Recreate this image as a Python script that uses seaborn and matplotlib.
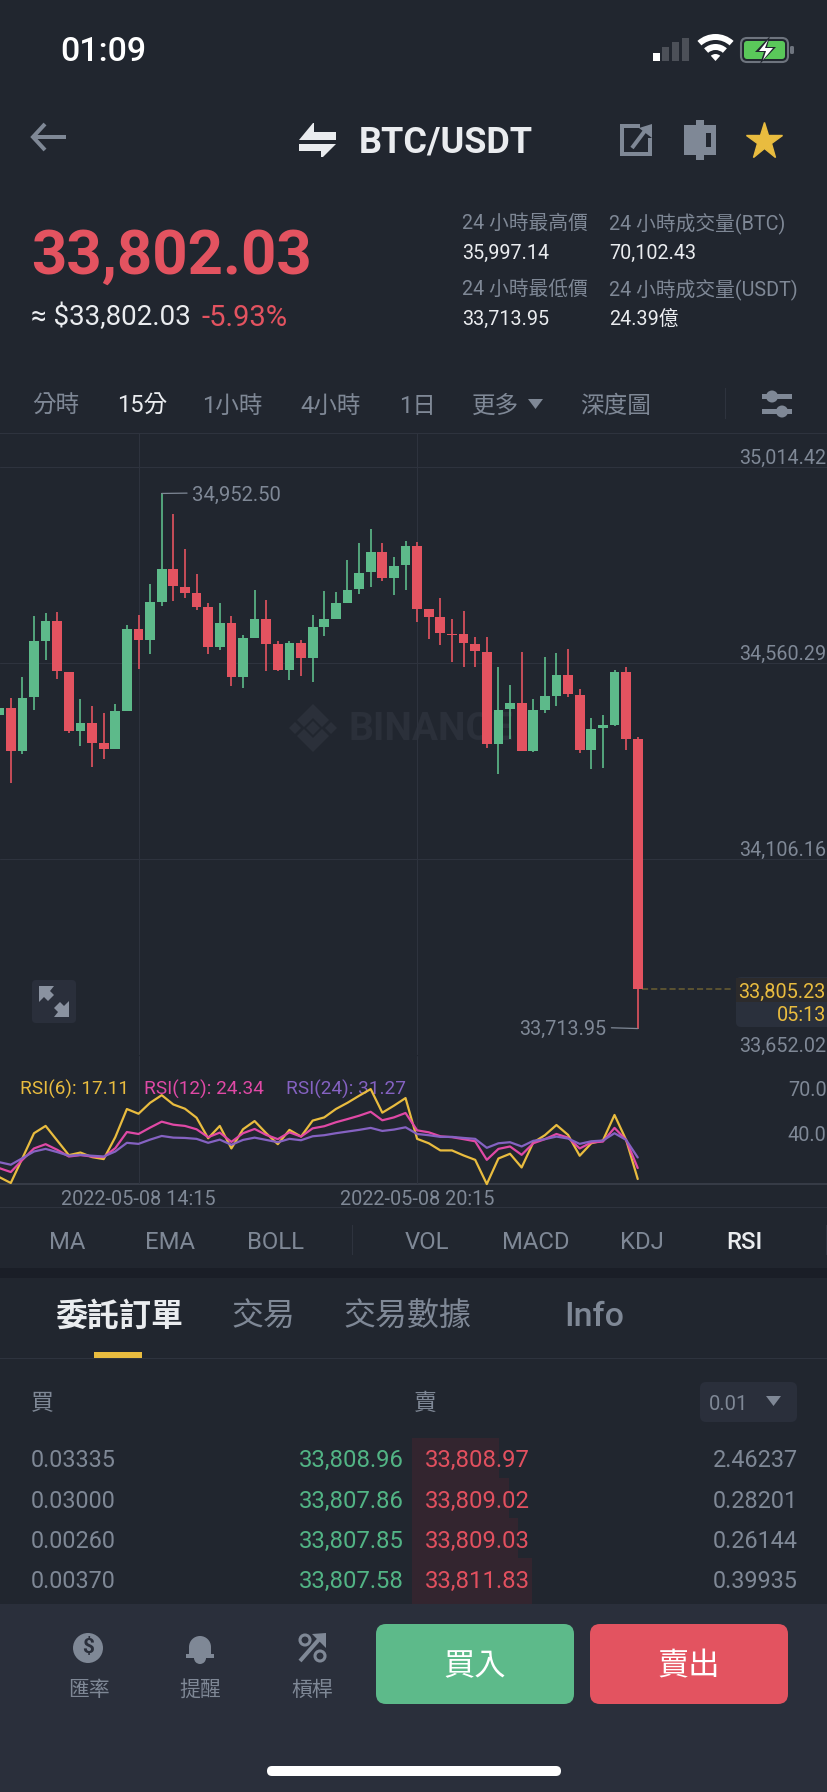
import matplotlib
matplotlib.use("Agg")
import matplotlib.pyplot as plt
from matplotlib.patches import Rectangle, FancyBboxPatch, Polygon, Circle, Wedge
from matplotlib.transforms import ScaledTranslation
import numpy as np
import pandas as pd
import seaborn as sns

# ---------- data ----------
opens = [34440,34457,34356,34481,34610,34658,34540,34402,34421,34375,34360,34450,34639,34613,34702,34777,34737,34722,34690,34597,
         34653,34527,34619,34663,34603,34543,34607,34572,34644,34662,34700,34731,34770,34818,34756,34787,34830,34685,34666,34627,
         34627,34605,34586,34373,34453,34468,34357,34452,34484,34532,34487,34359,34410,34416,34539,34383]
highs = [34536,34480,34528,34670,34676,34678,34540,34477,34460,34445,34466,34647,34671,34743,34952.5,34905,34824,34767,34699,34699,
         34668,34624,34729,34705,34611,34610,34613,34671,34726,34724,34799,34837,34870,34837,34805,34842,34839,34685,34710,34662,
         34680,34620,34620,34550,34510,34586,34477,34574,34583,34593,34499,34432,34440,34545,34550,34389]
lows = [34383,34283,34349,34451,34568,34522,34399,34368,34320,34337,34360,34450,34546,34580,34693,34703,34710,34683,34580,34590,
        34507,34503,34619,34541,34542,34521,34530,34516,34623,34662,34699,34720,34737,34750,34717,34730,34654,34616,34601,34563,
        34551,34551,34363,34303,34383,34357,34353,34445,34460,34482,34352,34314,34318,34414,34359,33713.95]
closes = [34457,34356,34480,34610,34658,34541,34402,34421,34376,34360,34449,34639,34613,34701,34777,34738,34723,34690,34597,34653,
          34527,34618,34663,34603,34543,34607,34572,34643,34662,34700,34730,34768,34818,34756,34785,34830,34686,34667,34629,34624,
          34606,34588,34373,34452,34468,34357,34451,34483,34532,34488,34359,34408,34416,34540,34384,33805.23]
rsi6 = [18.4,14.5,30.8,47.2,52.0,42.4,32.8,34.5,31.5,30.2,44.6,63.1,60.0,67.2,72.2,66.1,63.3,57.4,43.9,52.0,
        37.2,49.8,55.2,47.2,40.0,49.4,45.0,55.5,57.6,63.1,67.2,71.8,76.2,60.7,65.3,70.3,43.5,40.6,35.9,35.9,
        32.6,29.7,13.8,30.6,33.7,24.7,41.1,45.9,52.6,46.1,32.4,40.6,42.4,59.2,42.8,17.11]
rsi12 = [24.3,21.7,29.7,37.2,40.0,36.3,31.9,32.8,31.9,31.5,37.4,48.0,46.7,50.9,54.8,52.8,52.0,49.8,44.6,47.6,
         41.5,47.2,50.0,46.1,43.3,47.8,45.0,50.4,51.8,54.4,56.5,58.7,61.3,55.7,57.6,60.5,49.1,47.8,45.2,44.6,
         43.3,41.9,29.7,36.9,38.5,33.0,40.6,43.3,46.7,44.3,37.2,41.1,41.7,50.7,42.8,24.34]
rsi24 = [28.2,26.5,30.8,35.2,36.9,34.8,32.4,33.0,32.4,31.9,35.2,40.9,40.2,43.0,45.4,44.3,44.1,43.5,40.9,43.0,
         39.6,42.8,44.3,42.8,41.3,43.5,42.6,45.2,45.9,47.2,48.3,49.4,50.7,48.7,49.6,51.1,46.7,45.9,44.8,44.8,
         44.1,43.5,37.6,40.6,41.3,38.5,42.2,43.3,45.0,43.7,40.2,41.9,42.4,47.2,42.8,31.27]
price_ticks = [35014.42, 34560.29, 34106.16, 33652.02]
rsi_ticks = [70.0, 40.0]
date_ticks = [12, 36]
date_labels = ["2022-05-08 14:15", "2022-05-08 20:15"]
rsi_names = ["RSI(6): 17.11", "RSI(12): 24.34", "RSI(24): 31.27"]
periods = ["分時", "15分", "1小時", "4小時", "1日", "更多", "深度圖"]
indicators = ["MA", "EMA", "BOLL", "VOL", "MACD", "KDJ", "RSI"]
section_tabs = ["委託訂單", "交易", "交易數據", "Info"]
bid_size = ["0.03335", "0.03000", "0.00260", "0.00370"]
bid_price = ["33,808.96", "33,807.86", "33,807.85", "33,807.58"]
ask_price = ["33,808.97", "33,809.02", "33,809.03", "33,811.83"]
ask_size = ["2.46237", "0.28201", "0.26144", "0.39935"]
ask_depth = [87, 97, 105.5, 120]

# ---------- styling ----------
BG = "#21262F"; BAR = "#2A2F3B"; BAND = "#1A1E27"; LINE = "#2E333E"
GREY = "#7F8896"; WHITE = "#EAECEF"; GREEN = "#5DBA8A"; RED = "#E35360"
GOLD = "#E9BC3F"; TXTGREEN = "#52B485"; TXTRED = "#E2505F"
PINK = "#E049A6"; PURPLE = "#8562C2"; MARK = "#2B303A"

sns.set_theme(style="dark", rc={"axes.facecolor": "none", "figure.facecolor": BG, "savefig.facecolor": BG})
FONTS = ["Roboto", "Noto Sans CJK TC", "DejaVu Sans"]
plt.rcParams["font.family"] = FONTS

W, H = 828, 1792
fig = plt.figure(figsize=(W / 100, H / 100), dpi=100)

def px_axes(x0, y0, x1, y1, z):
    return fig.add_axes([x0 / W, 1 - y1 / H, (x1 - x0) / W, (y1 - y0) / H], zorder=z)

ui = px_axes(0, 0, W, H, 0)
ui.set_xlim(0, W); ui.set_ylim(H, 0); ui.axis("off")
over = px_axes(0, 0, W, H, 5)
over.set_xlim(0, W); over.set_ylim(H, 0); over.axis("off")

def T(x, y, s, size=14, color=GREY, ha="left", weight="normal", ax=ui):
    return ax.text(x, y + 0.12 * size, s, fontsize=size, color=color, ha=ha, va="center", fontweight=weight, family=FONTS)

def rect(x0, y0, x1, y1, color, ax=ui, z=1):
    ax.add_patch(Rectangle((x0, y0), x1 - x0, y1 - y0, fc=color, ec="none", zorder=z))

def rbox(x0, y0, x1, y1, color, r=8, ax=ui, z=1, ec="none", lw=0):
    ax.add_patch(FancyBboxPatch((x0, y0), x1 - x0, y1 - y0, boxstyle=f"round,pad=0,rounding_size={r}",
                                fc=color, ec=ec, lw=lw, zorder=z))

def poly(pts, color, ax=ui, z=2):
    ax.add_patch(Polygon(pts, closed=True, fc=color, ec="none", zorder=z))

def path(pts, color, lw=4, ax=ui, z=2):
    xs, ys = zip(*pts)
    ax.plot(xs, ys, color=color, lw=lw * 0.72, solid_capstyle="butt", solid_joinstyle="miter", zorder=z)

# ---------- status bar and header ----------
T(103.5, 49, "01:09", 24.5, "#FFFFFF", "center", "medium")
rect(653, 53, 660, 61, "#FFFFFF")
for x0, y0 in [(662, 47), (672, 42), (682, 38)]:
    rect(x0, y0, x0 + 7, 61, "#4C5058")
ui.add_patch(Wedge((715.5, 61), 27, 228, 312, width=6, fc="#FFFFFF", ec="none"))
ui.add_patch(Wedge((715.5, 61), 17, 228, 312, width=6, fc="#FFFFFF", ec="none"))
ui.add_patch(Wedge((715.5, 61), 7, 228, 312, fc="#FFFFFF", ec="none"))
rbox(741, 38, 788, 62, "none", r=6, ec="#6E747E", lw=1.5)
rbox(744, 41, 785, 59, "#5AC85A", r=3)
rbox(790, 46, 794, 54, "#6E747E", r=1.5)
poly([(770, 36), (755, 52), (764, 52), (760, 64), (776, 47), (767, 47)], BG, z=3)
poly([(768, 40), (759, 51), (766, 51), (763, 60), (773, 48), (765, 48)], "#FFFFFF", z=4)

path([(45, 124), (33, 137), (45, 150)], GREY, 4)
path([(34, 137), (66, 137)], GREY, 4)
poly([(299, 140), (313, 123), (314, 123), (314, 132), (336, 132), (336, 140)], WHITE)
poly([(299, 144), (336, 144), (323, 157), (321, 157), (321, 151), (299, 151)], WHITE)
T(359, 139, "BTC/USDT", 26, WHITE, "left", "bold")
path([(640, 126), (622, 126), (622, 154), (650, 154), (650, 138)], GREY, 4)
path([(632, 148), (647, 128)], GREY, 4)
poly([(652, 124), (652, 138), (639, 128)], GREY)
rect(684, 125, 716, 155, GREY)
rect(696, 120, 704, 160, GREY)
rect(706, 133, 711, 147, BG, z=3)
ui.plot([764], [141], marker="*", ms=28, color=GOLD, mec=GOLD, mew=1)

T(31, 251, "33,802.03", 44.5, RED, "left", "bold")
T(31, 315, "≈ $33,802.03", 20, WHITE, "left")
T(202, 315, "-5.93%", 21, RED, "left")
for x, y, s, c in [(462, 222, "24 小時最高價", GREY), (609, 222, "24 小時成交量(BTC)", GREY),
                   (462, 252, "35,997.14", WHITE), (609, 252, "70,102.43", WHITE),
                   (462, 288, "24 小時最低價", GREY), (609, 288, "24 小時成交量(USDT)", GREY),
                   (462, 318, "33,713.95", WHITE), (609, 318, "24.39億", WHITE)]:
    T(x, y, s, 14.2, c)

for x, s in zip([32, 117, 202, 300, 399, 472, 580], periods):
    T(x, 404, s, 17, WHITE if s == "15分" else GREY)
poly([(528, 399), (543, 399), (535.5, 409)], GREY)
rect(725, 388, 726, 419, LINE)
rect(762, 394, 792, 399, GREY); rect(762, 409, 792, 414, GREY)
ui.add_patch(Circle((772, 396.5), 6, fc=GREY, ec="none", zorder=3))
ui.add_patch(Circle((782, 411.5), 6, fc=GREY, ec="none", zorder=3))

# ---------- watermark ----------
for pts in [[(313, 704), (329, 720), (322, 727), (313, 718), (304, 727), (297, 720)],
            [(313, 752), (329, 736), (322, 729), (313, 738), (304, 729), (297, 736)],
            [(313, 721), (320, 728), (313, 735), (306, 728)],
            [(295, 722), (301, 728), (295, 734), (289, 728)],
            [(331, 722), (337, 728), (331, 734), (325, 728)]]:
    poly(pts, MARK)
T(349, 726, "BINANCE", 28, MARK, "left", "bold")

# ---------- candlesticks ----------
STEP = 11.61
X0 = 138.5 - 12 * STEP
idx = np.arange(len(opens))
xlim = ((0 - X0) / STEP, (W - X0) / STEP)
slope = (35014.42 - 33652.02) / (1055.3 - 466.7)

ax = px_axes(0, 433.3, W, 1055.3, 1)
ax.set_xlim(*xlim)
ax.set_ylim(33652.02, 35014.42 + (466.7 - 433.3) * slope)
o, h, l, c = map(np.array, (opens, highs, lows, closes))
cols = np.where(c >= o, GREEN, RED)
ax.vlines(idx, l, h, colors=cols, lw=1.2, zorder=3)
ax.bar(idx, np.maximum(np.abs(c - o), 2.5), bottom=np.minimum(o, c), width=0.84, color=cols, zorder=4, linewidth=0)
ax.set_xticks(date_ticks, ["", ""])
ax.set_yticks(price_ticks, [f"{p:,.2f}" for p in price_ticks])
ax.grid(True, color=LINE, lw=0.8)
ax.set_axisbelow(True)
ax.yaxis.tick_right()
ax.tick_params(axis="both", length=0)
ax.tick_params(axis="y", labelright=True, labelleft=False, pad=-1.4, labelsize=14.2, labelcolor=GREY)
up = ScaledTranslation(0, 0.105, fig.dpi_scale_trans)
for lab in ax.yaxis.get_majorticklabels():
    lab.set_ha("right")
    lab.set_transform(lab.get_transform() + up)
for s in ax.spines.values():
    s.set_visible(False)

# price annotations
i_hi = int(np.argmax(h)); i_lo = int(np.argmin(l))
ax.annotate(f"{h[i_hi]:,.2f}", xy=(i_hi, h[i_hi]), xytext=(30, -1.5), textcoords=("offset pixels"),
            color=GREY, fontsize=14.6, va="center", ha="left",
            arrowprops=dict(arrowstyle="-", relpos=(0, 0.6), color=GREY, lw=0.9, shrinkA=1, shrinkB=0))
ax.annotate(f"{l[i_lo]:,.2f}", xy=(i_lo, l[i_lo]), xytext=(-31, -1), textcoords=("offset pixels"),
            color=GREY, fontsize=14.2, va="center", ha="right",
            arrowprops=dict(arrowstyle="-", relpos=(1, 0.6), color=GREY, lw=0.9, shrinkA=1, shrinkB=0))
# last price dashed line and box
ax.plot([len(opens) - 1 + 0.41, (732 - X0) / STEP], [c[-1], c[-1]], color="#6B5F32", lw=1.1, ls=(0, (4, 2)), zorder=2)
rbox(736, 977, 840, 1027, "#2A303C", r=5, z=2)
rect(736.5, 978, 828, 1002, "#2C2B2C", z=3)
T(826, 990.5, "33,805.23", 14.3, GOLD, "right", ax=over)
T(826, 1013.5, "05:13", 14.3, GOLD, "right", ax=over)

# expand icon
rbox(32, 980, 76, 1023, BAR, r=4)
poly([(39, 986), (54, 986), (50, 991), (54, 995), (48, 1001), (44, 997), (39, 1002)], "#8A92A0")
poly([(69, 1017), (54, 1017), (58, 1012), (54, 1008), (60, 1002), (64, 1006), (69, 1001)], "#8A92A0")

# ---------- RSI ----------
rsi_df = pd.DataFrame({"idx": np.tile(idx, 3), "rsi": rsi6 + rsi12 + rsi24,
                       "series": ["6"] * len(idx) + ["12"] * len(idx) + ["24"] * len(idx)})
rx = px_axes(0, 1056, W, 1184, 2)
sns.lineplot(data=rsi_df, x="idx", y="rsi", hue="series", hue_order=["6", "12", "24"],
             palette=[GOLD, PINK, PURPLE], lw=1.6, legend=False, ax=rx, clip_on=False, zorder=3)
rx.set_xlim(*xlim); rx.set_ylim(13.84, 97.94)
rx.set_xlabel(""); rx.set_ylabel("")
rx.set_xticks(date_ticks, date_labels)
rx.set_yticks(rsi_ticks, [f"{v:.1f}" for v in rsi_ticks])
rx.grid(False); rx.xaxis.grid(True, color=LINE, lw=0.8); rx.set_axisbelow(True)
rx.yaxis.tick_right()
rx.tick_params(axis="both", length=0)
rx.tick_params(axis="x", pad=4.0, labelsize=14.3, labelcolor=GREY)
rx.tick_params(axis="y", labelright=True, labelleft=False, pad=-1.0, labelsize=14.3, labelcolor=GREY)
for lab in rx.yaxis.get_majorticklabels():
    lab.set_ha("right")
    lab.set_transform(lab.get_transform() + ScaledTranslation(0, 0.105, fig.dpi_scale_trans))
for s in rx.spines.values():
    s.set_visible(False)
for x, s, col in zip([20, 144, 286], rsi_names, [GOLD, PINK, PURPLE]):
    T(x, 1088, s, 13.7, col)

rect(0, 433, W, 434, LINE); rect(0, 1183.5, W, 1185, "#363B46"); rect(0, 1207, W, 1208, LINE)

# ---------- indicator tabs ----------
for x, s in zip([49, 145, 247, 405, 502, 620, 726], indicators):
    T(x, 1240, s, 17.2, WHITE if s == "RSI" else GREY, "left", "medium" if s == "RSI" else "normal")
rect(352, 1225, 353, 1255, LINE)
rect(826, 1225, 828, 1255, LINE)
rect(0, 1268, W, 1278, BAND)

for x, s, col, wt, fs in zip([55, 231, 343, 564], section_tabs, [WHITE, GREY, GREY, GREY],
                             ["bold", "normal", "normal", "medium"], [23, 23, 23, 24.5]):
    T(x, 1314, s, fs, col, "left", wt)
rect(94, 1352, 142, 1358, GOLD, z=3)
rect(0, 1358, W, 1359, LINE)

# ---------- order book ----------
T(31, 1402, "買", 16.5); T(414, 1402, "賣", 16.5)
rbox(700, 1382, 797, 1422, BAR, r=6)
T(709, 1403, "0.01", 14.5)
poly([(766, 1396), (781, 1396), (773.5, 1406)], GREY)
tops = [1438, 1478, 1518, 1558]; bots = [1478, 1518, 1558, 1604]
for i in range(4):
    rect(412.5, tops[i], 412.5 + ask_depth[i], bots[i], "#33252F")
for y, a, b, p, q in zip([1458.5, 1499, 1539, 1579], bid_size, bid_price, ask_price, ask_size):
    T(31, y, a, 16.8)
    T(403.5, y, b, 17.2, TXTGREEN, "right")
    T(425, y, p, 17.2, TXTRED, "left")
    T(798, y, q, 16.8, GREY, "right")

# ---------- bottom bar ----------
rect(0, 1604, W, H, BAR, z=2)
ui.add_patch(Circle((88, 1648), 15, fc=GREY, ec="none", zorder=3))
t = T(88, 1646, "$", 15, BAR, "center", "bold"); t.set_zorder(4)
ui.add_patch(Wedge((200, 1647), 11, 180, 360, fc=GREY, ec="none", zorder=3))
rect(189, 1647, 211, 1656, GREY, z=3)
rect(186, 1654, 214, 1658, GREY, z=3)
ui.add_patch(Wedge((200, 1658), 6, 0, 180, fc=GREY, ec="none", zorder=3))
path([(300, 1661), (322, 1636)], GREY, 4, z=3)
poly([(326, 1633), (326, 1648), (312, 1634)], GREY, z=3)
for cx, cy in [(305, 1640), (320, 1656)]:
    ui.add_patch(Circle((cx, cy), 5, fc="none", ec=GREY, lw=2.2, zorder=3))
for x, s in zip([89, 200, 312], ["匯率", "提醒", "槓桿"]):
    tt = T(x, 1688, s, 15, GREY, "center"); tt.set_zorder(4)
rbox(376, 1624, 574, 1704, GREEN, r=10, z=3)
rbox(590, 1624, 788, 1704, RED, r=10, z=3)
for x, s in [(475, "買入"), (689, "賣出")]:
    tt = T(x, 1664, s, 22.5, "#FFFFFF", "center", "medium"); tt.set_zorder(4)
rbox(267, 1766, 561, 1776, "#FFFFFF", r=5, z=3)

fig.savefig("out.png", dpi=100, facecolor=BG)
